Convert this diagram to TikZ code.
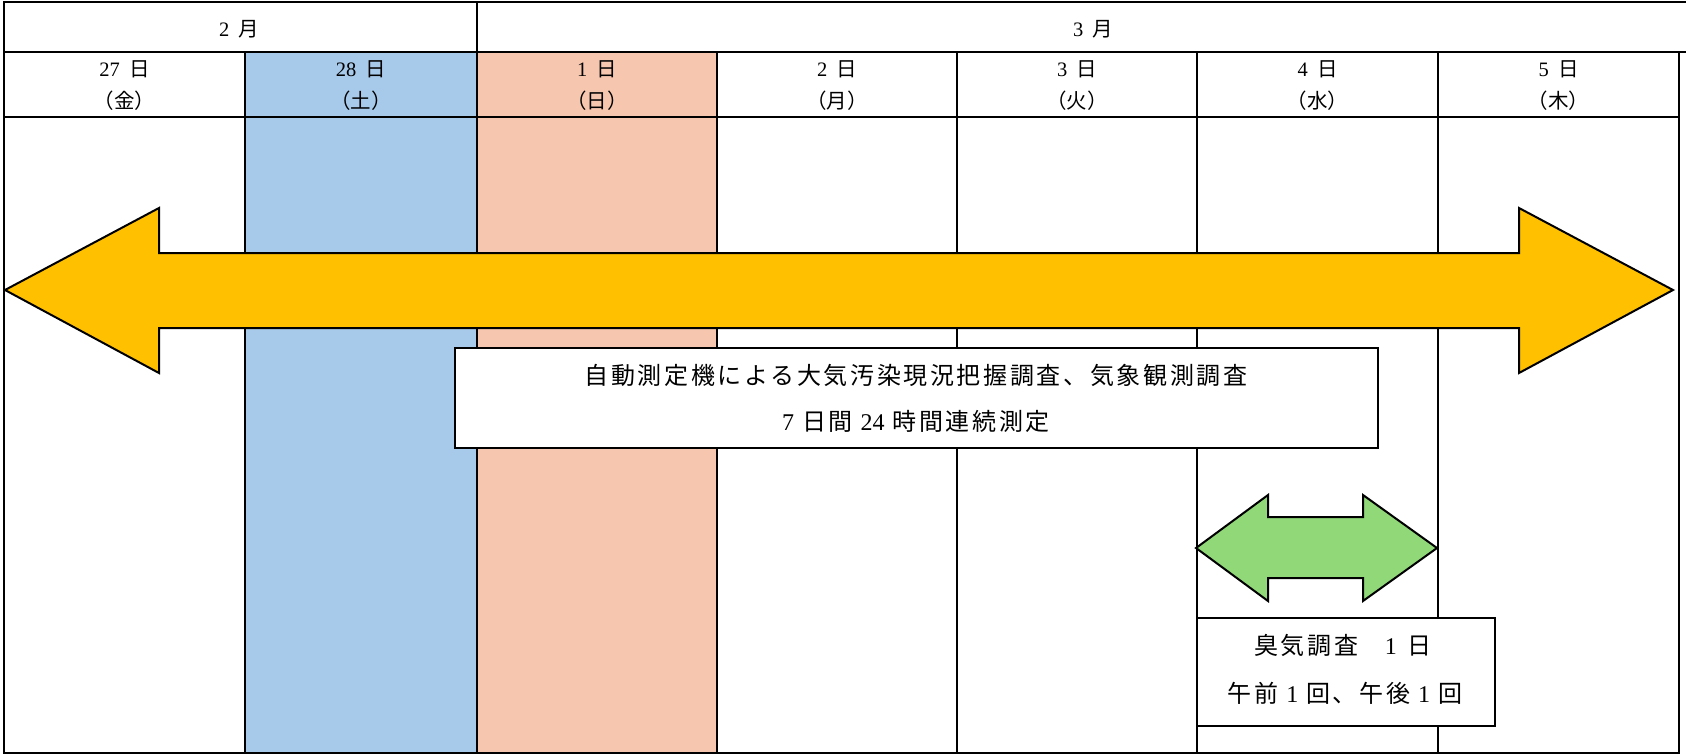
\documentclass[tikz,border=0pt]{standalone}
\usepackage{fontspec}
\setmainfont{Liberation Serif}
\newfontfamily\cjk{Noto Sans CJK JP}
\newfontfamily\cjkw[LetterSpace=11]{Noto Sans CJK JP}
\newcommand\hs{\kern0.45em}
\newcommand\bs{\kern0.33em}
\definecolor{satblue}{HTML}{A7C9EA}
\definecolor{sunsalmon}{HTML}{F6C6AE}
\definecolor{arrowyellow}{HTML}{FFC000}
\definecolor{arrowgreen}{HTML}{90D878}
\tikzset{
  grid/.style={line width=2.3pt, line cap=rect},
  hdr/.style={font=\fontsize{20.5}{24}\selectfont, inner sep=0pt},
  boxtext/.style={font=\fontsize{24}{28}\selectfont, inner sep=0pt},
  infobox/.style={draw, fill=white, line width=1.6pt},
  bigarrow/.style={draw, line width=2pt, fill=arrowyellow, line join=miter},
  smallarrow/.style={draw, line width=2pt, fill=arrowgreen, line join=miter}
}
\begin{document}
\begin{tikzpicture}[x=1pt,y=-1pt]
\useasboundingbox (0,0) rectangle (1686,755);
% column fills
\fill[satblue] (245,52) rectangle (477,753);
\fill[sunsalmon] (477,52) rectangle (717,753);
% grid
\draw[grid] (4,2) -- (1690,2);
\draw[grid] (4,52) -- (1690,52);
\draw[grid] (4,2) -- (4,753) -- (1679,753);
\draw[grid] (4,117) -- (1679,117);
\draw[grid] (477,2) -- (477,753);
\foreach \x in {245,717,957,1197,1438,1679}
  \draw[grid] (\x,52) -- (\x,753);
% month labels
\node[hdr] (feb) at (239,29) {2\hs{\cjk 月}};
\node[hdr] (mar) at (1093,29) {3\hs{\cjk 月}};
% day labels
\node[hdr] (d27) at (124.5,69) {27\hs{\cjk 日}};
\node[hdr] (w27) at (124.5,101) {\cjk （金）};
\node[hdr] (d28) at (361,69) {28\hs{\cjk 日}};
\node[hdr] (w28) at (361,101) {\cjk （土）};
\node[hdr] (d1) at (597,69) {1\hs{\cjk 日}};
\node[hdr] (w1) at (597,101) {\cjk （日）};
\node[hdr] (d2) at (837,69) {2\hs{\cjk 日}};
\node[hdr] (w2) at (837,101) {\cjk （月）};
\node[hdr] (d3) at (1077,69) {3\hs{\cjk 日}};
\node[hdr] (w3) at (1077,101) {\cjk （火）};
\node[hdr] (d4) at (1317.5,69) {4\hs{\cjk 日}};
\node[hdr] (w4) at (1317.5,101) {\cjk （水）};
\node[hdr] (d5) at (1558.5,69) {5\hs{\cjk 日}};
\node[hdr] (w5) at (1558.5,101) {\cjk （木）};
% big yellow double arrow
\draw[bigarrow] (5,290) -- (159,208) -- (159,253) -- (1519,253) -- (1519,208)
  -- (1673,290) -- (1519,373) -- (1519,328) -- (159,328) -- (159,373) -- cycle;
% main box
\draw[infobox] (455,348) rectangle (1378,448);
\node[boxtext] (t1) at (916,375) {\cjkw 自動測定機による大気汚染現況把握調査、気象観測調査};
\node[boxtext] (t2) at (916,421) {7\bs{\cjkw 日間}\bs 24\bs{\cjkw 時間連続測定}};
% green double arrow
\draw[smallarrow] (1196,548) -- (1268,495) -- (1268,517) -- (1363,517) -- (1363,495)
  -- (1437,548) -- (1363,601) -- (1363,578) -- (1268,578) -- (1268,601) -- cycle;
% odour box
\draw[infobox] (1197,618) rectangle (1495,726);
\node[boxtext] (o1) at (1343,645) {{\cjkw 臭気調査　}1\hs{\cjk 日}};
\node[boxtext] (o2) at (1345,693) {{\cjkw 午前}\bs 1\bs{\cjkw 回、午後}\bs 1\bs{\cjk 回}};
\end{tikzpicture}
\end{document}
